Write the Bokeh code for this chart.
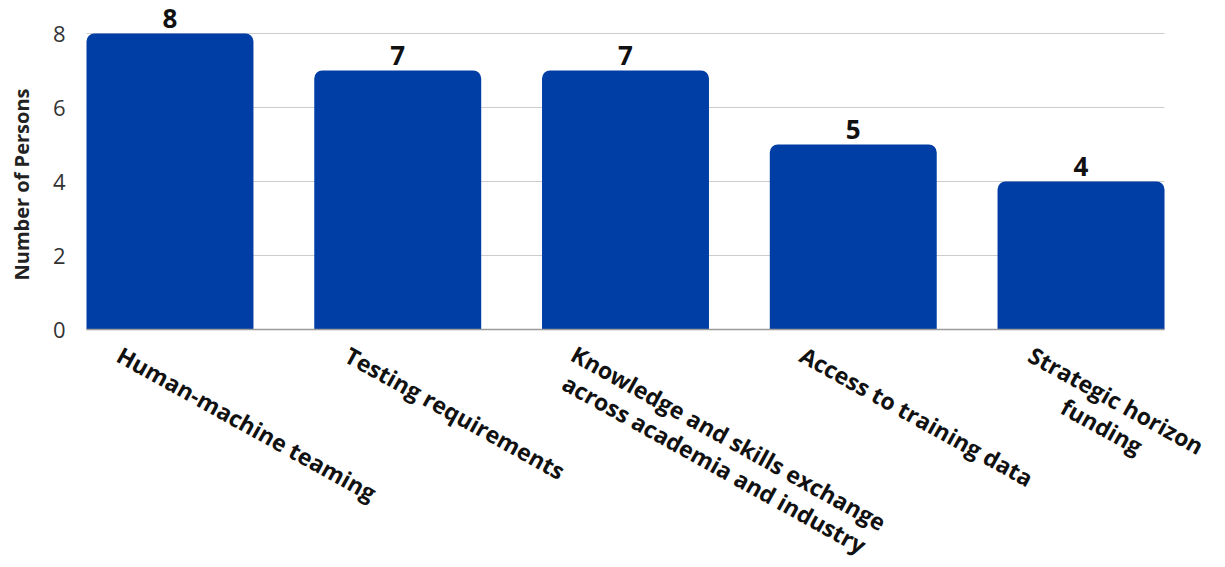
import math

from bokeh.core.properties import value
from bokeh.embed import file_html
from bokeh.models import ColumnDataSource, Label, Range1d
from bokeh.plotting import figure
from bokeh.resources import INLINE

# Survey responses: number of persons naming each area
categories = [
    "Human-machine teaming",
    "Testing requirements",
    "Knowledge and skills exchange\nacross academia and industry",
    "Access to training data",
    "Strategic horizon\nfunding",
]
persons = [8, 7, 7, 5, 4]
y_ticks = [0, 2, 4, 6, 8]
y_title = "Number of Persons"

BAR_COLOR = "#003DA5"
FONT = "Open Sans"
BAR_W = 0.733
n = len(categories)

W, H = 1225, 567
# plot box in screen pixels (left, right, top of 8, baseline)
PX_L, PX_R, PX_T, PX_B = 86, 1164, 33, 329
x_lo, x_hi = -BAR_W / 2, n - 1 + BAR_W / 2
y_lo, y_hi = 0, max(y_ticks)
sx = (PX_R - PX_L) / (x_hi - x_lo)
sy = (PX_B - PX_T) / (y_hi - y_lo)

src = ColumnDataSource(dict(
    x=list(range(n)),
    top=persons,
    label=[str(v) for v in persons],
))

# the drawing frame spans the whole canvas so labels around the bars are not clipped
p = figure(
    width=W, height=H,
    x_range=Range1d(x_lo - PX_L / sx, x_hi + (W - PX_R) / sx),
    y_range=Range1d(y_lo - (H - PX_B) / sy, y_hi + PX_T / sy),
    output_backend="svg", toolbar_location=None,
    min_border=0,
)
p.axis.visible = False
p.grid.visible = False
p.outline_line_color = None
p.background_fill_color = "white"
p.border_fill_color = "white"

# horizontal grid lines at the y ticks
grid_y = y_ticks[1:]
p.segment(x0=[x_lo] * len(grid_y), x1=[x_hi] * len(grid_y), y0=grid_y, y1=grid_y,
          line_color="#cccccc", line_width=1)

p.vbar(x="x", top="top", width=BAR_W, source=src,
       fill_color=BAR_COLOR, line_color=None, border_radius=(8, 8, 0, 0))

# baseline
p.segment(x0=[x_lo], x1=[x_hi], y0=[y_lo], y1=[y_lo], line_color="#9a9a9a", line_width=1.5)

# value labels above the bars
p.text(x="x", y="top", text="label", source=src,
       text_align="center", text_baseline="middle", y_offset=-15,
       text_font=value(FONT), text_font_size="26px", text_font_style="bold",
       text_color="#111111")

# y tick labels
p.text(x=[x_lo] * len(y_ticks), y=y_ticks, text=[str(t) for t in y_ticks],
       x_offset=-21, text_align="right", text_baseline="middle",
       text_font=value(FONT), text_font_size="22px", text_color="#333333")

# y axis title
p.add_layout(Label(
    x=21, y=H - 184, x_units="screen", y_units="screen", text=y_title,
    angle=math.pi / 2, text_align="center", text_baseline="middle",
    text_font=FONT, text_font_size="20px", text_font_style="bold", text_color="#222222",
))

# approximate advance widths (em) of the bold face, used to centre multi-line labels
ADV = {
    "H": .76, "T": .59, "K": .68, "A": .70, "S": .57,
    "a": .586, "b": .613, "c": .495, "d": .613, "e": .579, "f": .379, "g": .545,
    "h": .637, "i": .303, "k": .59, "l": .303, "m": .969, "n": .637, "o": .602,
    "p": .613, "q": .613, "r": .438, "s": .485, "t": .409, "u": .637, "w": .784,
    "x": .559, "y": .541, "z": .456, " ": .26, "-": .32,
}


def text_width(s, size):
    return sum(ADV.get(ch, .58) for ch in s) * size


# slanted, centred category labels hanging below each bar
THETA = math.radians(29)
CAT_SIZE = 23
LINE_GAP = 29                      # px between successive lines
FONT_BOX = 1.362                   # font ascent + descent, in em
LINE_H = LINE_GAP / (CAT_SIZE * FONT_BOX)
cos_t, sin_t = math.cos(THETA), math.sin(THETA)
start_dx, start_dy = -48, 25  # first line's left end, relative to the bar centre (screen px, y down)

for i, cat in enumerate(categories):
    lines = cat.split("\n")
    w_max = max(text_width(s, CAT_SIZE) for s in lines)
    half_block = (len(lines) - 1) * LINE_GAP / 2
    dx = start_dx + (w_max / 2) * cos_t - half_block * sin_t
    dy = start_dy + (w_max / 2) * sin_t + half_block * cos_t
    p.add_layout(Label(
        x=i, y=0, x_offset=dx, y_offset=-dy, text=cat, angle=-THETA,
        text_align="center", text_baseline="middle",
        text_font=FONT, text_font_size=f"{CAT_SIZE}px", text_font_style="bold",
        text_color="#111111", text_line_height=LINE_H,
    ))

open("out.html", "w").write(file_html(p, INLINE))
